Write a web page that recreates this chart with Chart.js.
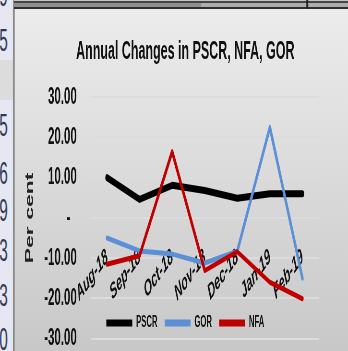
<!DOCTYPE html>
<html lang="en">
<head>
<meta charset="UTF-8">
<title>Annual Changes in PSCR, NFA, GOR</title>
<script src="https://cdn.jsdelivr.net/npm/chart.js"></script>
<style>
  html, body { margin: 0; padding: 0; width: 348px; height: 351px; overflow: hidden; background: #e7e7f3; }
  /* the screenshot is squeezed sideways, so everything is drawn wide and scaled */
  #folha { position: absolute; left: 0; top: 0; width: 741px; height: 351px; transform: scaleX(0.48); transform-origin: 0 0; }
  #linhas { position: absolute; left: 0; top: 0; width: 27px; height: 351px; background: #e7e7f3; overflow: hidden; }
  #linhas .sel { position: absolute; left: 0; top: 60px; width: 27px; height: 40px; background: #dcdcdc; }
  #linhas .cel { position: absolute; right: 11px; font: 32px "Liberation Sans", Arial, sans-serif; line-height: 32px; color: #2d3a55; }
  #borda { position: absolute; left: 27px; top: 0; width: 4px; height: 351px; background: #8a8a8a; }
  #barra { position: absolute; left: 29px; top: 0; width: 712px; height: 9px; background: #adadad; }
  #barra div { position: absolute; }
  #grafico { position: absolute; left: 31px; top: 9px; width: 710px; height: 373px;
             background: linear-gradient(to bottom, #ececec 0px, #c8c8c8 342px); }
</style>
</head>
<body>
<div id="folha">
  <div id="linhas">
    <div class="sel"></div>
    <div class="cel" style="top:-21px">9</div>
    <div class="cel" style="top:24px">5</div>
    <div class="cel" style="top:109px">5</div>
    <div class="cel" style="top:157px">6</div>
    <div class="cel" style="top:194px">9</div>
    <div class="cel" style="top:234px">3</div>
    <div class="cel" style="top:279px">3</div>
    <div class="cel" style="top:323px">0</div>
  </div>
  <div id="borda"></div>
  <div id="barra">
    <div style="left:0;top:0;width:712px;height:1px;background:#c4c4c4"></div>
    <div style="left:0;top:1px;width:712px;height:2px;background:#454545"></div>
    <div style="left:0;top:3px;width:390px;height:4px;background:#8f8f8f"></div>
    <div style="left:0;top:7px;width:712px;height:2px;background:#2e2e2e"></div>
    <div style="left:609px;top:0;width:4px;height:9px;background:#222"></div>
  </div>
  <div id="grafico"><canvas id="myChartCanvas" width="710" height="373"></canvas></div>
</div>

<script>
    const meses = ['Aug-18', 'Sep-18', 'Oct-18', 'Nov-18', 'Dec-18', 'Jan-19', 'Feb-19'];
    const pscr = [10.0, 4.6, 8.1, 6.8, 4.9, 6.0, 6.0];
    const gor = [-5.0, -8.2, -9.0, -11.2, -8.3, 22.5, -15.0];
    const nfa = [-11.5, -9.4, 16.5, -13.1, -8.4, -16.0, -20.1];
    const ticksY = [-30, -20, -10, 0, 10, 20, 30];

    Chart.defaults.font.family = '"Liberation Sans", Arial, sans-serif';

    // Excel puts the legend inside the plot, just above the -30 line
    const legendaNaArea = {
        id: 'legendaNaArea',
        afterLayout(chart) {
            const lg = chart.legend;
            const h = lg.bottom - lg.top;
            lg.top = 291;
            lg.bottom = lg.top + h;
        }
    };

    new Chart(document.getElementById('myChartCanvas'), {
        type: 'line',
        data: {
            labels: meses,
            datasets: [
                { label: 'PSCR', data: pscr, borderColor: '#000000', backgroundColor: '#000000', borderWidth: 7, order: 3 },
                { label: 'GOR', data: gor, borderColor: '#5b8fd6', backgroundColor: '#5b8fd6', borderWidth: 5, order: 2 },
                { label: 'NFA', data: nfa, borderColor: '#c00000', backgroundColor: '#c00000', borderWidth: 5, order: 1 }
            ]
        },
        options: {
            responsive: false,
            animation: false,
            layout: { padding: 0 },
            elements: {
                point: { radius: 0 },
                line: { tension: 0, borderCapStyle: 'round', borderJoinStyle: 'round' }
            },
            scales: {
                x: {
                    position: { y: 0 },
                    offset: true,
                    grid: { display: false, drawTicks: false },
                    border: { display: false },
                    ticks: {
                        autoSkip: false, minRotation: 34, maxRotation: 34, padding: 26,
                        color: '#111', font: { size: 22, weight: 'bold', style: 'italic' }
                    }
                },
                y: {
                    min: ticksY[0],
                    max: ticksY[ticksY.length - 1],
                    afterFit: function (s) { s.width = 158; },
                    grid: { color: '#dcdcdc', lineWidth: 2, drawTicks: false },
                    border: { display: false },
                    ticks: {
                        stepSize: ticksY[1] - ticksY[0], padding: 29, color: '#111',
                        font: { size: 24, weight: 'bold' },
                        callback: function (v) { return v === 0 ? '-  ' : v.toFixed(2); }
                    },
                    title: {
                        display: true, text: 'Per cent', color: '#222',
                        font: { size: 23, weight: 'bold' }, padding: { top: 18, bottom: 0 }
                    }
                },
                // empty strip on the right of the plot (the chart box runs past the crop)
                direita: {
                    position: 'right',
                    afterFit: function (s) { s.width = 77; },
                    grid: { display: false, drawTicks: false },
                    border: { display: false },
                    ticks: { display: false }
                }
            },
            plugins: {
                title: {
                    display: true, text: 'Annual Changes in PSCR, NFA, GOR', color: '#111',
                    font: { size: 26, weight: 'bold' },
                    padding: { top: 27, bottom: 30 }
                },
                legend: {
                    position: 'bottom',
                    labels: {
                        usePointStyle: true, pointStyle: 'line', pointStyleWidth: 54, padding: 15,
                        color: '#111', font: { size: 16, weight: 'bold' },
                        sort: function (a, b) { return a.datasetIndex - b.datasetIndex; },
                        generateLabels: function (chart) {
                            return Chart.defaults.plugins.legend.labels.generateLabels(chart)
                                .map(function (item) { item.lineWidth = 7; return item; });
                        }
                    }
                },
                tooltip: { enabled: false }
            }
        },
        plugins: [legendaNaArea]
    });
</script>
</body>
</html>
